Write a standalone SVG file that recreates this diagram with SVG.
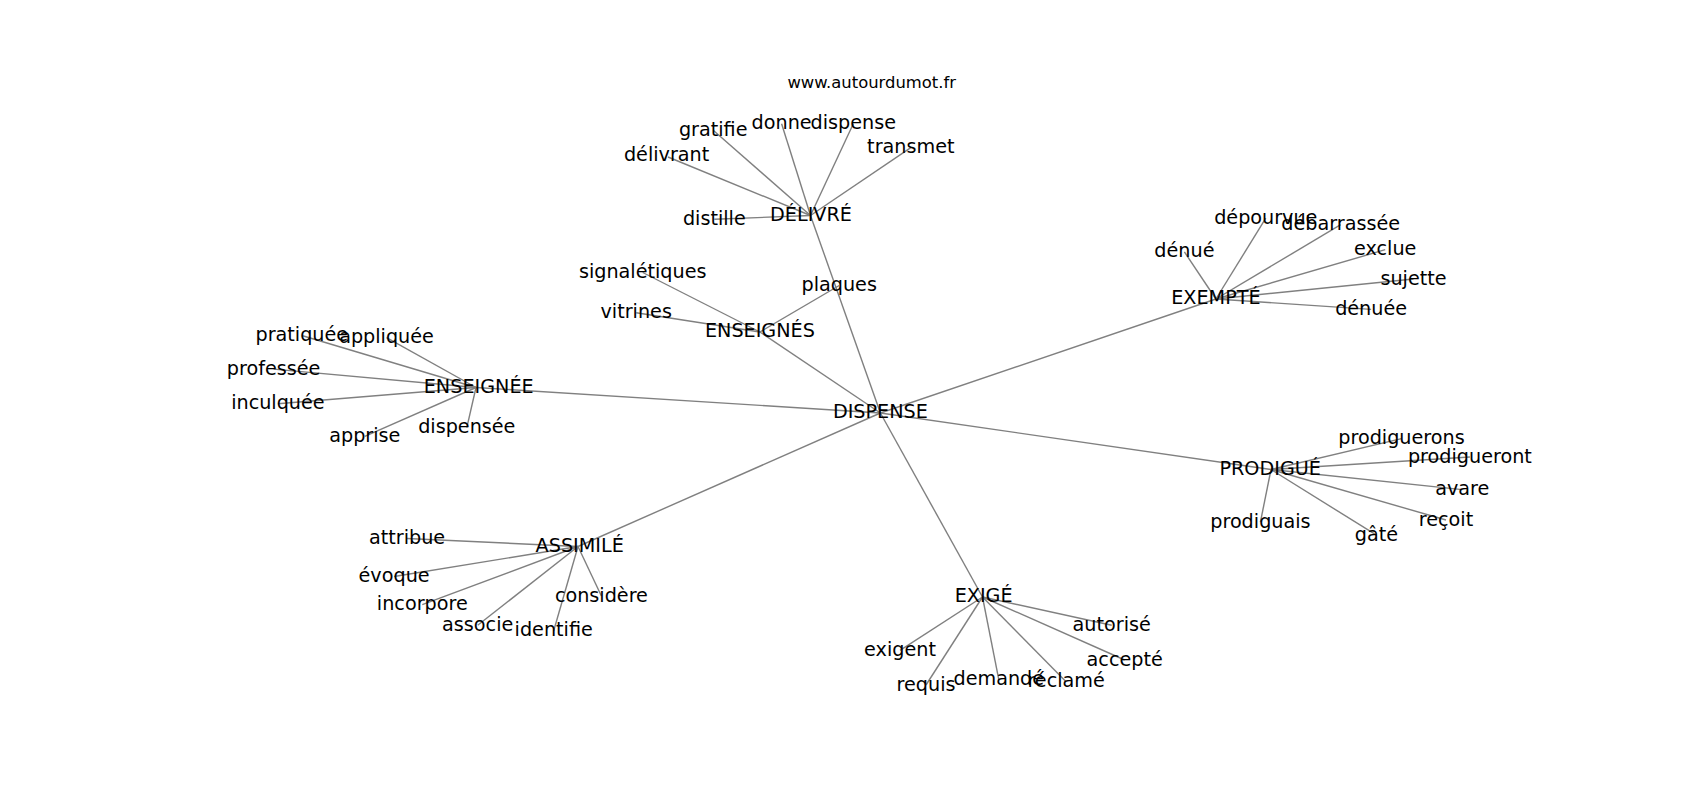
<svg xmlns="http://www.w3.org/2000/svg" width="1700" height="800" viewBox="0 0 1700 800">
<style>
.e{stroke:#808080;stroke-width:1.4;fill:none}
text{font-family:"DejaVu Sans","Liberation Sans",sans-serif;font-size:19.2px;fill:#000;text-anchor:middle}
.t{font-size:16.4px}
</style>
<rect width="1700" height="800" fill="#fff"/>
<g id="connectors">
<line class="e" x1="880.4" y1="413" x2="810.5" y2="215.5"/>
<line class="e" x1="880.4" y1="413" x2="759.9" y2="332"/>
<line class="e" x1="880.4" y1="413" x2="476" y2="387.5"/>
<line class="e" x1="880.4" y1="413" x2="1215.9" y2="299"/>
<line class="e" x1="880.4" y1="413" x2="1271" y2="469.5"/>
<line class="e" x1="880.4" y1="413" x2="578" y2="546.5"/>
<line class="e" x1="880.4" y1="413" x2="982.5" y2="597"/>
<line class="e" x1="810.5" y1="215.5" x2="713.2" y2="130.3"/>
<line class="e" x1="810.5" y1="215.5" x2="781.6" y2="123.8"/>
<line class="e" x1="810.5" y1="215.5" x2="853.3" y2="123.8"/>
<line class="e" x1="810.5" y1="215.5" x2="910.8" y2="147.6"/>
<line class="e" x1="810.5" y1="215.5" x2="668" y2="157"/>
<line class="e" x1="810.5" y1="215.5" x2="714.3" y2="219.3"/>
<line class="e" x1="759.9" y1="332" x2="642.7" y2="272.5"/>
<line class="e" x1="759.9" y1="332" x2="636.2" y2="312.7"/>
<line class="e" x1="759.9" y1="332" x2="839.2" y2="285.5"/>
<line class="e" x1="476" y1="387.5" x2="301.8" y2="335.5"/>
<line class="e" x1="476" y1="387.5" x2="386.5" y2="337.6"/>
<line class="e" x1="476" y1="387.5" x2="273.6" y2="369.1"/>
<line class="e" x1="476" y1="387.5" x2="277.9" y2="403.8"/>
<line class="e" x1="476" y1="387.5" x2="364.8" y2="436.4"/>
<line class="e" x1="476" y1="387.5" x2="466.8" y2="427.7"/>
<line class="e" x1="1215.9" y1="299" x2="1265.8" y2="218.2"/>
<line class="e" x1="1215.9" y1="299" x2="1340.7" y2="224.7"/>
<line class="e" x1="1215.9" y1="299" x2="1184.4" y2="251.9"/>
<line class="e" x1="1215.9" y1="299" x2="1385.2" y2="249.7"/>
<line class="e" x1="1215.9" y1="299" x2="1413.5" y2="279"/>
<line class="e" x1="1215.9" y1="299" x2="1371.1" y2="309.4"/>
<line class="e" x1="1271" y1="469.5" x2="1401.5" y2="438.6"/>
<line class="e" x1="1271" y1="469.5" x2="1469.9" y2="457"/>
<line class="e" x1="1271" y1="469.5" x2="1462.3" y2="489.6"/>
<line class="e" x1="1271" y1="469.5" x2="1446" y2="520"/>
<line class="e" x1="1271" y1="469.5" x2="1376.5" y2="535.2"/>
<line class="e" x1="1271" y1="469.5" x2="1260.4" y2="522.2"/>
<line class="e" x1="578" y1="546.5" x2="407.1" y2="538.5"/>
<line class="e" x1="578" y1="546.5" x2="394.1" y2="576.5"/>
<line class="e" x1="578" y1="546.5" x2="422.3" y2="604.7"/>
<line class="e" x1="578" y1="546.5" x2="477.7" y2="625.3"/>
<line class="e" x1="578" y1="546.5" x2="553.7" y2="630.7"/>
<line class="e" x1="578" y1="546.5" x2="601.4" y2="596"/>
<line class="e" x1="982.5" y1="597" x2="900" y2="650.3"/>
<line class="e" x1="982.5" y1="597" x2="926" y2="685"/>
<line class="e" x1="982.5" y1="597" x2="998.8" y2="679.6"/>
<line class="e" x1="982.5" y1="597" x2="1066.1" y2="681.8"/>
<line class="e" x1="982.5" y1="597" x2="1111.7" y2="625.3"/>
<line class="e" x1="982.5" y1="597" x2="1124.7" y2="660"/>
</g>
<text class="t" x="871.7" y="88">www.autourdumot.fr</text>
<g id="n-dispense-hub"><text x="880.4" y="418.3">DISPENSE</text></g>
<g id="n-delivre"><text x="811" y="220.8">DÉLIVRÉ</text></g>
<g id="n-enseignes"><text x="759.9" y="337.3">ENSEIGNÉS</text></g>
<g id="n-enseignee"><text x="478.7" y="392.8">ENSEIGNÉE</text></g>
<g id="n-exempte"><text x="1215.9" y="304.3">EXEMPTÉ</text></g>
<g id="n-prodigue"><text x="1270.2" y="474.8">PRODIGUÉ</text></g>
<g id="n-assimile"><text x="579.7" y="551.8">ASSIMILÉ</text></g>
<g id="n-exige"><text x="983.6" y="602.3">EXIGÉ</text></g>
<g id="n-gratifie"><text x="713.2" y="135.8">gratifie</text></g>
<g id="n-donne"><text x="781.6" y="129.3">donne</text></g>
<g id="n-dispense"><text x="853.3" y="129.3">dispense</text></g>
<g id="n-transmet"><text x="910.8" y="153.1">transmet</text></g>
<g id="n-delivrant"><text x="666.6" y="160.7">délivrant</text></g>
<g id="n-distille"><text x="714.3" y="224.8">distille</text></g>
<g id="n-signaletiques"><text x="642.7" y="278">signalétiques</text></g>
<g id="n-vitrines"><text x="636.2" y="318.2">vitrines</text></g>
<g id="n-plaques"><text x="839.2" y="291">plaques</text></g>
<g id="n-pratiquee"><text x="301.8" y="341">pratiquée</text></g>
<g id="n-appliquee"><text x="386.5" y="343.1">appliquée</text></g>
<g id="n-professee"><text x="273.6" y="374.6">professée</text></g>
<g id="n-inculquee"><text x="277.9" y="409.3">inculquée</text></g>
<g id="n-apprise"><text x="364.8" y="441.9">apprise</text></g>
<g id="n-dispensee"><text x="466.8" y="433.2">dispensée</text></g>
<g id="n-depourvue"><text x="1265.8" y="223.7">dépourvue</text></g>
<g id="n-debarrassee"><text x="1340.7" y="230.2">débarrassée</text></g>
<g id="n-denue"><text x="1184.4" y="257.4">dénué</text></g>
<g id="n-exclue"><text x="1385.2" y="255.2">exclue</text></g>
<g id="n-sujette"><text x="1413.5" y="284.5">sujette</text></g>
<g id="n-denuee"><text x="1371.1" y="314.9">dénuée</text></g>
<g id="n-prodiguerons"><text x="1401.5" y="444.1">prodiguerons</text></g>
<g id="n-prodigueront"><text x="1469.9" y="462.5">prodigueront</text></g>
<g id="n-avare"><text x="1462.3" y="495.1">avare</text></g>
<g id="n-recoit"><text x="1446" y="525.5">reçoit</text></g>
<g id="n-gate"><text x="1376.5" y="540.7">gâté</text></g>
<g id="n-prodiguais"><text x="1260.4" y="527.7">prodiguais</text></g>
<g id="n-attribue"><text x="407.1" y="544">attribue</text></g>
<g id="n-evoque"><text x="394.1" y="582">évoque</text></g>
<g id="n-incorpore"><text x="422.3" y="610.2">incorpore</text></g>
<g id="n-associe"><text x="477.7" y="630.8">associe</text></g>
<g id="n-identifie"><text x="553.7" y="636.2">identifie</text></g>
<g id="n-considere"><text x="601.4" y="601.5">considère</text></g>
<g id="n-exigent"><text x="900" y="655.8">exigent</text></g>
<g id="n-requis"><text x="926" y="690.5">requis</text></g>
<g id="n-demande"><text x="998.8" y="685.1">demandé</text></g>
<g id="n-reclame"><text x="1066.1" y="687.3">réclamé</text></g>
<g id="n-autorise"><text x="1111.7" y="630.8">autorisé</text></g>
<g id="n-accepte"><text x="1124.7" y="665.5">accepté</text></g>
</svg>
